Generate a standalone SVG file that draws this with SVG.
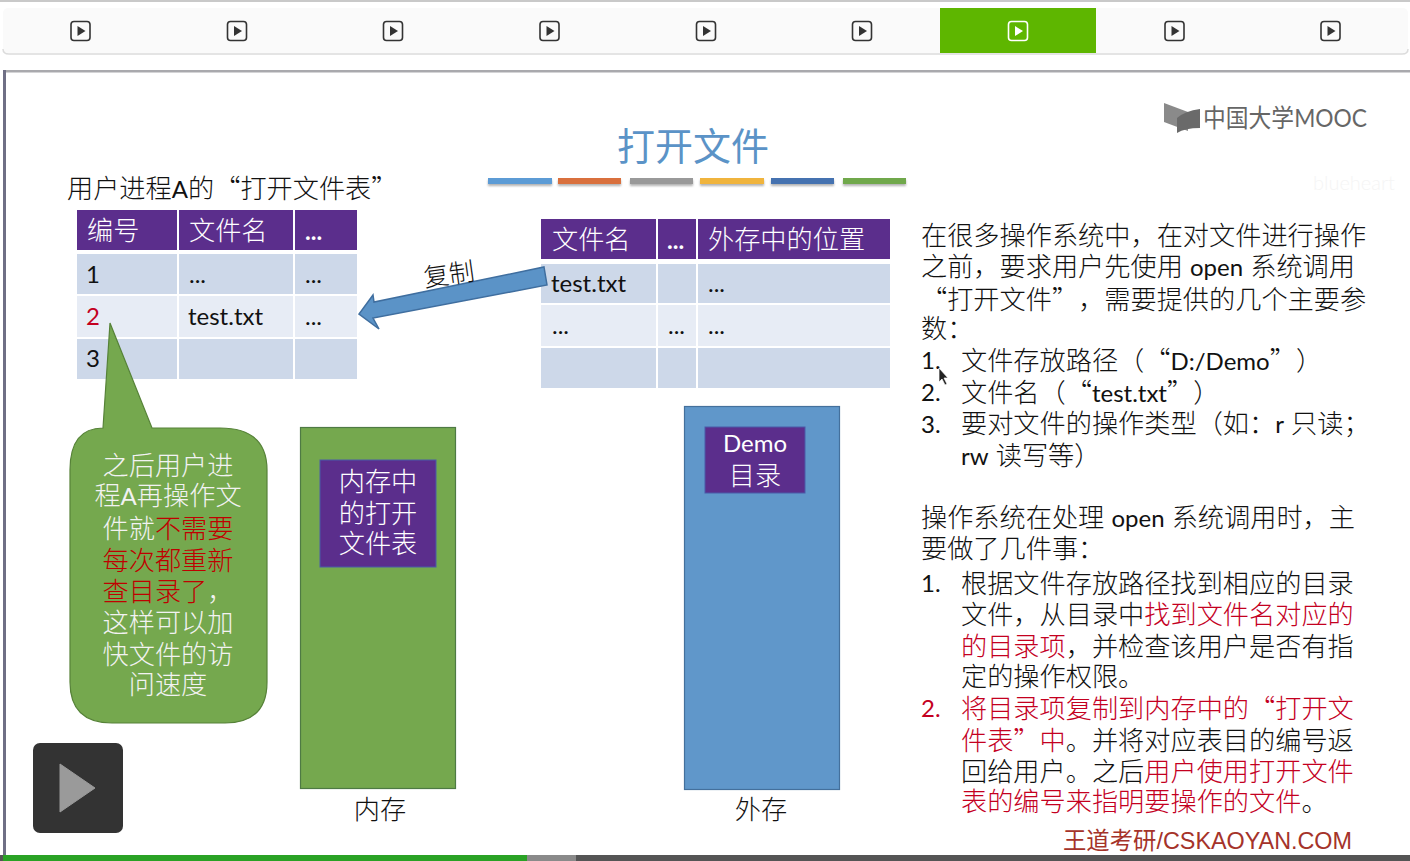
<svg xmlns="http://www.w3.org/2000/svg" width="1410" height="861" viewBox="0 0 1410 861">
<style>
text{font-family:"Lato","Noto Sans CJK SC",sans-serif;fill:#111;font-weight:300;text-spacing-trim:space-all}
.r{font-size:26.2px}
.l{font-size:24px;font-weight:400}
.q{font-family:"Noto Sans CJK SC",sans-serif}
.red{fill:#c4001f}
.th{fill:#5b2e8c}
.a{fill:#cdd8e9}
.b{fill:#e7ecf5}
.m{font-size:26.2px;fill:#fff}
.c{text-anchor:middle}
.ic{fill:none;stroke:#333;stroke-width:1.6}
.tb{font-size:24px;font-weight:400}
.g{fill:#f2f2f2}
.dr{fill:#c00000}
</style>
<defs>
<g id="play"><rect x="-9.500" y="-9.500" width="19" height="19" rx="3" class="ic"/><path d="M-3-5L5 0L-3 5Z" fill="#333"/></g>
<filter id="sh" x="-10%" y="-50%" width="120%" height="220%"><feDropShadow dx="0" dy="2" stdDeviation="1.200" flood-color="#000" flood-opacity=".3"/></filter>
</defs>
<rect width="1410" height="861" fill="#fff"/>
<g id="toolbar">
<rect x="0" y="0" width="1410" height="2" fill="#c9c9c9"/>
<rect x="3" y="8" width="1405" height="45" rx="5" fill="#fafafa"/>
<path d="M3 49q0 5 6 5H1402q6 0 6-5" fill="none" stroke="#dcdcdc" stroke-width="1.500"/>
<rect x="940" y="8" width="156" height="45" fill="#5eb600"/>
<use href="#play" x="80.500" y="31"/><use href="#play" x="237" y="31"/><use href="#play" x="393" y="31"/><use href="#play" x="549.500" y="31"/><use href="#play" x="706" y="31"/><use href="#play" x="862" y="31"/>
<g transform="translate(1018 31)"><rect x="-9.500" y="-9.500" width="19" height="19" rx="3" fill="none" stroke="#fff" stroke-width="1.600"/><path d="M-3-5L5 0L-3 5Z" fill="#fff"/></g>
<use href="#play" x="1174.500" y="31"/><use href="#play" x="1330.500" y="31"/>
</g>
<g id="frame">
<rect x="3" y="70" width="1407" height="2.500" fill="#a9a9ad"/>
<rect x="3" y="70" width="3" height="785" fill="#6f6f85"/>
<rect x="0" y="855" width="1410" height="6" fill="#555"/>
<rect x="3" y="855" width="524" height="6" fill="#2aa225"/>
<rect x="527" y="855" width="49" height="6" fill="#8a8a8a"/>
</g>
<g id="title">
<text x="693" y="160" class="c" font-size="38" style="fill:#5b93c7;font-weight:400">打开文件</text>
<g filter="url(#sh)">
<rect x="488" y="178" width="64" height="6" fill="#5b9bd5"/>
<rect x="558" y="178" width="63" height="6" fill="#d9703d"/>
<rect x="630" y="178" width="63" height="6" fill="#999"/>
<rect x="700" y="178" width="64" height="6" fill="#f0b43c"/>
<rect x="771" y="178" width="63" height="6" fill="#4472b0"/>
<rect x="843" y="178" width="63" height="6" fill="#6fa84b"/>
</g>
</g>
<g id="logo">
<path d="M1164 103L1188 112V131L1164 122Z" fill="#8a8a8a"/>
<path d="M1177 133V118Q1185 111 1200 109V128Q1185 128 1177 133Z" fill="#6a6a6a"/>
<text x="1203" y="127" font-size="25" textLength="164" lengthAdjust="spacingAndGlyphs" style="fill:#666;font-weight:400">中国大学MOOC</text>
</g>
<text id="watermark" x="1313" y="190" font-size="20" style="fill:#f5f5f5">blueheart</text>
<text id="label-a" x="67" y="198" font-size="26.200">用户进程<tspan class="l">A</tspan>的<tspan class="q">“</tspan>打开文件表<tspan class="q">”</tspan></text>
<g id="table-a">
<rect x="77" y="210" width="100" height="40" class="th"/><rect x="179" y="210" width="114" height="40" class="th"/><rect x="295" y="210" width="62" height="40" class="th"/>
<rect x="77" y="254" width="100" height="40" class="a"/><rect x="179" y="254" width="114" height="40" class="a"/><rect x="295" y="254" width="62" height="40" class="a"/>
<rect x="77" y="296" width="100" height="41" class="b"/><rect x="179" y="296" width="114" height="41" class="b"/><rect x="295" y="296" width="62" height="41" class="b"/>
<rect x="77" y="339" width="100" height="40" class="a"/><rect x="179" y="339" width="114" height="40" class="a"/><rect x="295" y="339" width="62" height="40" class="a"/>
<text x="87" y="240" class="m">编号</text><text x="189" y="240" class="m">文件名</text><text x="305" y="240" class="tb" style="fill:#fff;font-weight:700">...</text>
<text x="86" y="283" class="tb">1</text><text x="189" y="283" class="tb">...</text><text x="305" y="283" class="tb">...</text>
<text x="86" y="325" class="tb red">2</text><text x="188" y="325" class="tb">test.txt</text><text x="305" y="325" class="tb">...</text>
<text x="86" y="367" class="tb">3</text>
</g>
<g id="table-b">
<rect x="541" y="219" width="115" height="40" class="th"/><rect x="658" y="219" width="38" height="40" class="th"/><rect x="698" y="219" width="192" height="40" class="th"/>
<rect x="541" y="264" width="115" height="39" class="a"/><rect x="658" y="264" width="38" height="39" class="a"/><rect x="698" y="264" width="192" height="39" class="a"/>
<rect x="541" y="305" width="115" height="41" class="b"/><rect x="658" y="305" width="38" height="41" class="b"/><rect x="698" y="305" width="192" height="41" class="b"/>
<rect x="541" y="348" width="115" height="40" class="a"/><rect x="658" y="348" width="38" height="40" class="a"/><rect x="698" y="348" width="192" height="40" class="a"/>
<text x="552" y="249" class="m">文件名</text><text x="667" y="249" class="tb" style="fill:#fff;font-weight:700">...</text><text x="708" y="249" class="m">外存中的位置</text>
<text x="551" y="292" class="tb">test.txt</text><text x="708" y="292" class="tb">...</text>
<text x="552" y="334" class="tb">...</text><text x="668" y="334" class="tb">...</text><text x="708" y="334" class="tb">...</text>
</g>
<g id="connectors">
<path d="M544 267L547 285L373 318L379 329L359 314L373 295L374 302Z" fill="#5b93c7" stroke="#3f6e9f" stroke-width="1.500"/>
</g>
<text id="copy-label" transform="translate(425 287) rotate(-8)" font-size="25.500">复制</text>
<g id="callout">
<path d="M110 323L152 428H220Q267 428 267 470V682Q267 723 225 723H112Q70 723 70 682V470Q70 428 103 428Z" fill="#75a84e" stroke="#568238" stroke-width="1.200"/>
<g font-size="26.200" text-anchor="middle">
<text x="168" y="475" class="g">之后用户进</text>
<text x="168" y="505" class="g">程<tspan class="l g">A</tspan>再操作文</text>
<text x="168" y="538" class="g">件就<tspan class="dr">不需要</tspan></text>
<text x="168" y="570" class="dr">每次都重新</text>
<text x="168" y="601" class="g"><tspan class="dr">查目录了</tspan>，</text>
<text x="168" y="632" class="g">这样可以加</text>
<text x="168" y="664" class="g">快文件的访</text>
<text x="168" y="694" class="g">问速度</text>
</g>
</g>
<g id="memory">
<rect x="300.500" y="427.500" width="155" height="361" fill="#75a84e" stroke="#4e7a44" stroke-width="1.200"/>
<rect x="320" y="460" width="116" height="107" fill="#5b2e8c" stroke="#4a5aa8" stroke-width="1"/>
<text x="378" y="491" class="m c">内存中</text><text x="378" y="523" class="m c">的打开</text><text x="378" y="553" class="m c">文件表</text>
<text x="380" y="819" class="c" font-size="26.200">内存</text>
</g>
<g id="disk">
<rect x="684.500" y="406.500" width="155" height="383" fill="#6097ca" stroke="#44709c" stroke-width="1.200"/>
<rect x="705" y="427" width="100" height="66" fill="#5b2e8c" stroke="#4a5aa8" stroke-width="1"/>
<text x="755" y="452" class="c" font-size="24" style="fill:#fff;font-weight:400">Demo</text><text x="755" y="485" class="m c">目录</text>
<text x="761" y="819" class="c" font-size="26.200">外存</text>
</g>
<g id="video-play">
<rect x="33" y="743" width="90" height="90" rx="7" fill="#333"/>
<path d="M60 764L95 788L60 812Z" fill="#9a9a9a" stroke="#9a9a9a" stroke-linejoin="round" stroke-width="1"/>
</g>
<g id="notes">
<text x="921" y="245" class="r">在很多操作系统中，在对文件进行操作</text>
<text x="921" y="276" class="r">之前，要求用户先使用 <tspan class="l">open</tspan> 系统调用</text>
<text x="921" y="309" class="r"><tspan class="q">“</tspan>打开文件<tspan class="q">”</tspan>，需要提供的几个主要参</text>
<text x="921" y="338" class="r">数：</text>
<text x="921" y="369" class="tb">1.</text><text x="961" y="370" class="r">文件存放路径（<tspan class="q">“</tspan><tspan class="l">D:/Demo</tspan><tspan class="q">”</tspan>）</text>
<text x="921" y="401" class="tb">2.</text><text x="961" y="402" class="r">文件名（<tspan class="q">“</tspan><tspan class="l">test.txt</tspan><tspan class="q">”</tspan>）</text>
<text x="921" y="433" class="tb">3.</text><text x="961" y="433" class="r">要对文件的操作类型（如：<tspan class="l">r</tspan> 只读；</text>
<text x="961" y="465" class="r"><tspan class="l">rw</tspan> 读写等）</text>
<text x="921" y="527" class="r">操作系统在处理 <tspan class="l">open</tspan> 系统调用时，主</text>
<text x="921" y="558" class="r">要做了几件事：</text>
<text x="921" y="592" class="tb">1.</text><text x="961" y="593" class="r">根据文件存放路径找到相应的目录</text>
<text x="961" y="624" class="r">文件，从目录中<tspan class="red">找到文件名对应的</tspan></text>
<text x="961" y="656" class="r"><tspan class="red">的目录项</tspan>，并检查该用户是否有指</text>
<text x="961" y="686" class="r">定的操作权限。</text>
<text x="921" y="717" class="tb red">2.</text><text x="961" y="718" class="r red">将目录项复制到内存中的<tspan class="q">“</tspan>打开文</text>
<text x="961" y="750" class="r"><tspan class="red">件表<tspan class="q">”</tspan>中</tspan>。并将对应表目的编号返</text>
<text x="961" y="781" class="r">回给用户。之后<tspan class="red">用户使用打开文件</tspan></text>
<text x="961" y="811" class="r"><tspan class="red">表的编号来指明要操作的文件</tspan>。</text>
</g>
<text id="brand" x="1063" y="849" font-size="24" textLength="289" lengthAdjust="spacingAndGlyphs" style="fill:#a5332a;font-weight:400;font-family:'Liberation Sans','Noto Sans CJK SC',sans-serif">王道考研/CSKAOYAN.COM</text>
<path id="cursor" d="M939 368V382L942 379L945 385L947 384L944 378L948 378Z" fill="#222" stroke="#fff" stroke-width=".7"/>
</svg>
